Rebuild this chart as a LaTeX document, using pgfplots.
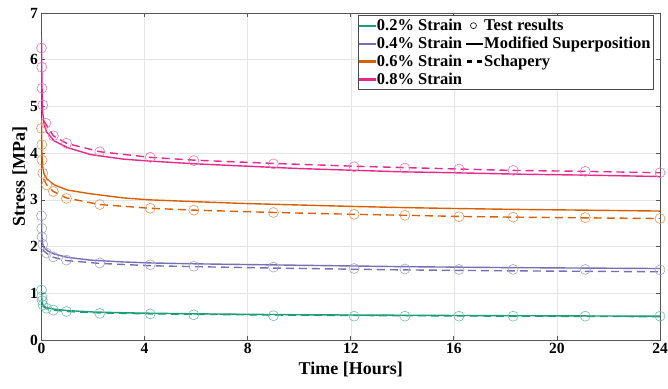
\documentclass[border=0pt]{standalone}
\usepackage{fontspec}
\setmainfont{Liberation Serif}
\usepackage{pgfplots}
\pgfplotsset{compat=1.18}
\definecolor{cG}{HTML}{1B9E77}
\definecolor{cP}{HTML}{7570B3}
\definecolor{cO}{HTML}{D95F02}
\definecolor{cM}{HTML}{E7298A}
\definecolor{axgray}{HTML}{555555}
\pgfplotsset{
  circleleg/.style={legend image code/.code={\draw[black, line width=0.6pt] (0.25cm,0cm) circle[radius=3pt];}},
  legG/.style={legend image code/.code={\fill[cG] (0cm,-0.75pt) rectangle (0.55cm,0.75pt);}},
  legP/.style={legend image code/.code={\fill[cP] (0cm,-0.75pt) rectangle (0.55cm,0.75pt);}},
  legO/.style={legend image code/.code={\fill[cO] (0cm,-0.75pt) rectangle (0.55cm,0.75pt);}},
  legM/.style={legend image code/.code={\fill[cM] (0cm,-0.75pt) rectangle (0.55cm,0.75pt);}},
  legK/.style={legend image code/.code={\fill[black] (0cm,-0.75pt) rectangle (0.55cm,0.75pt);}},
  legD/.style={legend image code/.code={\fill[black] (0.02cm,-0.75pt) rectangle (0.17cm,0.75pt); \fill[black] (0.38cm,-0.75pt) rectangle (0.53cm,0.75pt);}},
}
\begin{document}
\begin{tikzpicture}
\begin{axis}[
  scale only axis, width=618.5pt, height=327pt,
  xmin=0, xmax=24, ymin=0, ymax=7,
  xtick={0,4,...,24}, ytick={0,1,...,7},
  grid=major, major grid style={draw=black!10, line width=0.5pt},
  axis line style={draw=axgray, line width=0.7pt},
  tick style={draw=axgray, line width=0.7pt},
  major tick length=4pt, tick align=inside,
  /pgf/number format/assume math mode=true,
  tick label style={font=\fontsize{15.5}{17}\selectfont\bfseries},
  label style={font=\fontsize{18}{20}\selectfont\bfseries},
  xlabel={Time [Hours]}, ylabel={Stress [MPa]},
  xlabel style={yshift=-1pt}, ylabel style={yshift=-4pt},
  legend columns=2,
  legend style={at={(rel axis cs:0.99,0.994)}, anchor=north east,
    font=\fontsize{16.5}{19}\selectfont\bfseries, draw=black!70,
    inner xsep=1pt, inner ysep=2pt, row sep=0.8pt,
    /tikz/every even column/.append style={column sep=2pt}},
  legend cell align=left,
]
% --- 0.2% ---
\addplot[cG, line width=1.4pt, forget plot] coordinates {(0,1.02) (0.01,0.9) (0.03,0.8) (0.06,0.75) (0.1,0.72) (0.2,0.69) (0.5,0.66) (1,0.63) (2,0.6) (3,0.585) (4,0.575) (6,0.56) (8,0.55) (10,0.54) (12,0.535) (14,0.53) (16,0.525) (18,0.52) (21,0.515) (24,0.51)};
\addplot[cG, line width=1.4pt, dash pattern=on 8pt off 5pt, forget plot] coordinates {(0.05,0.75) (0.1,0.7) (0.2,0.67) (0.46,0.64) (0.97,0.61) (2.26,0.58) (4.22,0.56) (5.91,0.55) (9,0.535) (12.1,0.525) (14.1,0.52) (16.2,0.515) (18.3,0.51) (21.1,0.505) (24,0.5)};
\addplot[cG!65, only marks, mark=o, mark size=5pt, mark options={line width=0.6pt}, forget plot] coordinates {(0,1.07) (0.01,0.93) (0.03,0.84) (0.06,0.75) (0.2,0.68) (0.46,0.64) (0.97,0.61) (2.26,0.57) (4.22,0.56) (5.91,0.54) (9,0.52) (12.13,0.51) (14.1,0.51) (16.2,0.51) (18.3,0.51) (21.1,0.51) (24,0.51)};
% --- 0.4% ---
\addplot[cP, line width=1.4pt, forget plot] coordinates {(0,2.65) (0.01,2.35) (0.02,2.2) (0.05,2.05) (0.1,1.98) (0.26,1.9) (0.5,1.84) (1,1.77) (1.9,1.71) (3.2,1.67) (4.2,1.65) (6,1.63) (8,1.615) (10,1.6) (12,1.585) (14,1.57) (16,1.56) (18,1.55) (21,1.54) (24,1.53)};
\addplot[cP, line width=1.4pt, dash pattern=on 8pt off 5pt, forget plot] coordinates {(0.05,1.95) (0.1,1.9) (0.26,1.83) (0.46,1.77) (0.97,1.7) (2.26,1.64) (4.22,1.59) (5.91,1.57) (9,1.54) (12.1,1.515) (14.1,1.5) (16.2,1.49) (18.3,1.48) (21.1,1.47) (24,1.46)};
\addplot[cP!65, only marks, mark=o, mark size=5pt, mark options={line width=0.6pt}, forget plot] coordinates {(0,2.66) (0.01,2.39) (0.02,2.2) (0.05,2.05) (0.2,1.86) (0.46,1.78) (0.97,1.71) (2.26,1.65) (4.22,1.61) (5.91,1.58) (9,1.56) (12.13,1.53) (14.1,1.52) (16.2,1.51) (18.3,1.51) (21.1,1.51) (24,1.5)};
% --- 0.6% ---
\addplot[cO, line width=1.4pt, forget plot] coordinates {(0,4.75) (0.01,4.3) (0.02,4.0) (0.05,3.7) (0.1,3.55) (0.2,3.45) (0.5,3.32) (1,3.21) (1.9,3.13) (3.2,3.04) (4.2,3.0) (6,2.96) (8,2.92) (10,2.89) (12,2.86) (14,2.835) (16,2.815) (18.5,2.795) (21,2.78) (24,2.76)};
\addplot[cO, line width=1.4pt, dash pattern=on 8pt off 5pt, forget plot] coordinates {(0.08,3.45) (0.2,3.32) (0.46,3.18) (0.97,3.04) (2.26,2.9) (4.22,2.82) (5.91,2.78) (9,2.73) (12.13,2.69) (14.1,2.67) (16.2,2.645) (18.3,2.63) (21.1,2.615) (24,2.6)};
\addplot[cO!65, only marks, mark=o, mark size=5pt, mark options={line width=0.6pt}, forget plot] coordinates {(0,4.53) (0.01,4.18) (0.02,3.85) (0.05,3.57) (0.2,3.32) (0.46,3.18) (0.97,3.03) (2.26,2.9) (4.22,2.82) (5.91,2.78) (9,2.73) (12.13,2.69) (14.1,2.67) (16.2,2.64) (18.3,2.63) (21.1,2.62) (24,2.6)};
% --- 0.8% ---
\addplot[cM, line width=1.4pt, forget plot] coordinates {(0,6.5) (0.01,5.8) (0.02,5.4) (0.05,4.85) (0.1,4.62) (0.2,4.45) (0.5,4.26) (1,4.12) (1.9,3.97) (3.2,3.87) (4.2,3.83) (6,3.77) (8,3.72) (10,3.67) (12,3.635) (14,3.6) (16,3.58) (18.5,3.55) (21,3.53) (24,3.5)};
\addplot[cM, line width=1.4pt, dash pattern=on 8pt off 5pt, forget plot] coordinates {(0.08,4.7) (0.17,4.62) (0.46,4.37) (0.97,4.21) (2.26,4.03) (4.22,3.91) (5.91,3.85) (9,3.78) (12.13,3.72) (14.1,3.69) (16.2,3.66) (18.3,3.63) (21.1,3.61) (24,3.58)};
\addplot[cM!65, only marks, mark=o, mark size=5pt, mark options={line width=0.6pt}, forget plot] coordinates {(0,6.25) (0.01,5.84) (0.02,5.39) (0.05,5.03) (0.17,4.64) (0.46,4.37) (0.97,4.21) (2.26,4.03) (4.22,3.91) (5.91,3.84) (9,3.77) (12.13,3.71) (14.1,3.68) (16.2,3.66) (18.3,3.63) (21.1,3.61) (24,3.58)};
% --- legend ---
\addlegendimage{legG}
\addlegendentry{0.2\% Strain}
\addlegendimage{circleleg}
\addlegendentry{Test results}
\addlegendimage{legP}
\addlegendentry{0.4\% Strain}
\addlegendimage{legK}
\addlegendentry{Modified Superposition}
\addlegendimage{legO}
\addlegendentry{0.6\% Strain}
\addlegendimage{legD}
\addlegendentry{Schapery}
\addlegendimage{legM}
\addlegendentry{0.8\% Strain}
\coordinate (LL) at (rel axis cs:0,0);
\coordinate (UR) at (rel axis cs:1,1);
\end{axis}
\pgfresetboundingbox
\path ([shift={(-41.5pt,-49pt)}]LL) rectangle ([shift={(8pt,13pt)}]UR);
\end{tikzpicture}
\end{document}
